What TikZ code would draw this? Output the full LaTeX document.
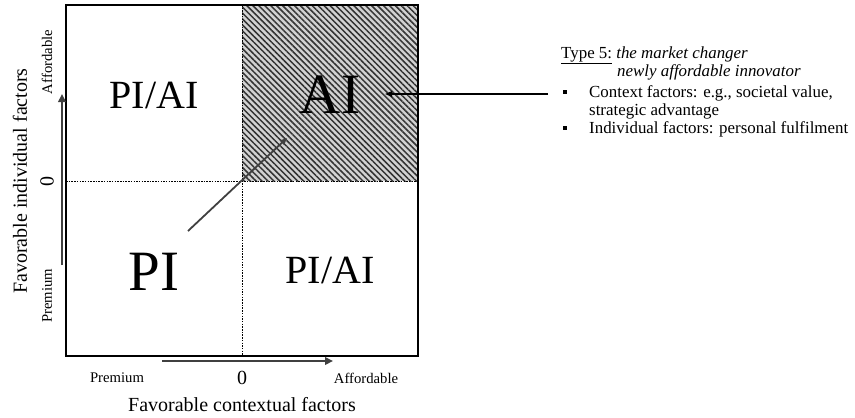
\documentclass[tikz,border=0pt]{standalone}
\usepackage{fontspec}
\setmainfont{Liberation Serif}
\usetikzlibrary{arrows.meta,patterns.meta}
\newcommand{\fsz}[1]{\fontsize{#1}{#1}\selectfont}
\begin{document}
\begin{tikzpicture}[x=1pt,y=-1pt,
  lbl/.style={inner sep=0pt,font=\fsz{14.7}},
  axislbl/.style={inner sep=0pt,font=\fsz{20}},
  quad/.style={inner sep=0pt,anchor=base},
  rtxt/.style={inner sep=0pt,anchor=base west,font=\fsz{16.9}},
  axarrow/.style={draw=black!75,line width=2.8pt,-{Triangle[length=8pt,width=7.5pt]}},
  moveto/.style={draw=black!75,line width=1.8pt,-{Triangle[length=7pt,width=6pt]}},
  pointer/.style={draw=black,line width=1.6pt,-{Triangle[length=7pt,width=5.5pt]}},
  divider/.style={draw=black,line width=0.7pt,dash pattern=on 1.5pt off 1.2pt},
  bulletmark/.style={fill=black,minimum size=4.4pt,inner sep=0pt}]
\useasboundingbox (0,0) rectangle (855,418);
% shaded quadrant
\fill[gray!35] (242,5) rectangle (418,181);
\fill[pattern={Lines[angle=-45,distance=4.2pt,line width=1.5pt]},pattern color=black!80] (242,5) rectangle (418,181);
% dividers
\coordinate (ctop) at (242,5);
\coordinate (cbot) at (242,356);
\coordinate (cleft) at (66,181);
\coordinate (cright) at (418,181);
\draw[divider] (ctop) -- (cbot);
\draw[divider] (cleft) -- (cright);
% frame
\draw[line width=2.6pt] (66,5) rectangle (418,356);
% quadrant labels
\node[quad,font=\fsz{40}] (tl) at (154,108) {PI/AI};
\node[quad,font=\fsz{57}] (ai) at (330,113) {AI};
\node[quad,font=\fsz{57}] (pi) at (154,290) {PI};
\node[quad,font=\fsz{40}] (br) at (330,283) {PI/AI};
% diagonal move
\coordinate (mvs) at (188,231);
\coordinate (mve) at (287,138);
\draw[moveto] (mvs) -- (mve);
% axes arrows
\coordinate (vys) at (62,265);
\coordinate (vye) at (62,94);
\draw[axarrow] (vys) -- (vye);
\coordinate (hxs) at (162,361);
\coordinate (hxe) at (333,361);
\draw[axarrow] (hxs) -- (hxe);
% y axis labels
\node[axislbl,rotate=90] (ylab) at (20,181) {Favorable individual factors};
\node[lbl,rotate=90] (yaff) at (47,62) {Affordable};
\node[axislbl,rotate=90] (yzero) at (47,181) {0};
\node[lbl,rotate=90] (yprem) at (47,296) {Premium};
% x axis labels
\node[lbl] (xprem) at (117,378) {Premium};
\node[axislbl] (xzero) at (242,378) {0};
\node[lbl] (xaff) at (366,378) {Affordable};
\node[axislbl] (xlab) at (242,405) {Favorable contextual factors};
% right text
\node[rtxt] (t1) at (561,58) {\underline{Type 5:} \textit{the market changer}};
\node[rtxt] (t2) at (617,76) {\textit{newly affordable innovator}};
\node[bulletmark] (b1) at (565,92) {};
\node[rtxt] (t3) at (589,97) {Context factors: e.g., societal value,};
\node[rtxt] (t4) at (589,115) {strategic advantage};
\node[bulletmark] (b2) at (565,128) {};
\node[rtxt] (t5) at (589,133) {Individual factors: personal fulfilment};
% pointer
\coordinate (ps) at (548,94);
\coordinate (pe) at (385,94);
\draw[pointer] (ps) -- (pe);
\end{tikzpicture}
\end{document}
